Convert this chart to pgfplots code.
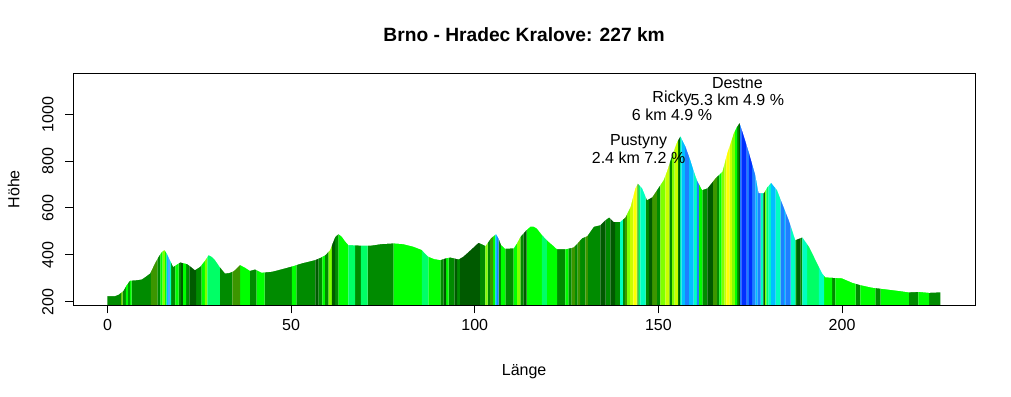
\documentclass[border=0pt]{standalone}
\usepackage{fontspec}
\setmainfont{Liberation Sans}
\usepackage{pgfplots}
\pgfplotsset{compat=1.18}
\usepackage{pgfplotstable}
\definecolor{cA}{HTML}{008B00}
\definecolor{cB}{HTML}{66CD00}
\definecolor{cC}{HTML}{00FF00}
\definecolor{cD}{HTML}{7FFF00}
\definecolor{cE}{HTML}{00FF66}
\definecolor{cF}{HTML}{00FFC0}
\definecolor{cG}{HTML}{00C0FF}
\definecolor{cH}{HTML}{1E80FF}
\definecolor{cI}{HTML}{0030FF}
\definecolor{cJ}{HTML}{C8FF00}
\definecolor{cK}{HTML}{FFFF00}
\definecolor{cL}{HTML}{3C9600}
\definecolor{cM}{HTML}{005A00}

\pgfplotstableread{
km elev
0 224
2.0 224
3.0 230
4.3 246
5.2 271
6.1 290
7.5 291
9.3 295
10.5 308
11.6 321
12.9 364
14.0 395
14.8 413
15.5 421
16.2 405
17.0 378
17.9 349
18.8 358
19.8 368
20.8 364
21.7 361
22.8 348
23.8 335
25.2 349
26.5 375
27.5 399
28.3 393
29.2 380
30.5 350
32.0 321
33.0 322
34.3 330
36.1 357
37.5 345
38.8 332
40.2 338
42.0 324
44.7 328
46.5 335
48.4 343
50.5 352
52.9 364
54.5 370
56.5 378
58.0 388
59.3 399
60.6 421
61.3 450
62.0 477
62.9 489
63.8 478
64.7 458
65.6 442
68.0 440
71.5 439
74.5 446
77.9 449
80.5 446
83.3 435
85.6 421
86.5 405
87.4 392
89.0 382
90.6 378
92.0 385
93.3 389
95.6 381
96.8 392
97.9 407
99.5 430
101.0 452
102.0 445
102.9 438
104.4 471
105.8 489
106.5 470
107.2 442
108.3 426
110.6 428
111.5 450
112.4 477
114.0 505
115.1 520
116.0 521
116.9 513
118.3 485
120.1 456
121.3 440
122.4 424
124.7 424
126.9 432
128.0 450
129.2 471
130.6 480
131.5 500
132.4 520
134.2 527
135.6 549
136.6 560
137.8 541
139.6 541
141.0 560
142.4 605
143.7 684
144.4 705
145.6 684
146.9 634
148.3 646
149.6 677
151.4 719
152.4 760
153.3 805
154.2 845
155.1 883
156.0 907
157.4 862
158.7 805
159.6 760
160.5 719
161.9 677
163.3 684
164.4 705
165.5 727
167.4 755
168.0 790
168.7 833
169.6 875
170.5 919
171.3 945
172.1 964
173.2 911
174.6 840
175.5 790
176.4 741
177.3 663
178.7 663
179.6 688
180.7 708
182.3 677
183.7 620
185.5 549
187.3 463
189.2 475
191.0 435
192.8 378
194.6 321
195.5 304
200.0 300
202.8 281
205.0 271
208.2 260
211.9 253
215.5 246
218.2 240
220.9 242
223.7 238
226.8 240
}\profile

% stripes: km where a colour band starts, colour index
\pgfplotstableread{
km c
0.0 1
3.7 2
4.1 1
5.0 3
5.6 1
6.1 3
6.6 1
11.8 12
13.6 1
14.4 3
15.0 4
15.6 3
16.1 7
16.6 8
16.9 6
17.3 1
18.5 3
19.4 1
20.0 13
20.5 3
21.4 1
22.3 13
24.1 1
25.6 3
26.5 4
27.2 5
30.6 1
34.0 12
36.1 3
38.8 1
40.6 3
42.8 1
50.2 3
51.4 1
56.6 13
57.4 1
58.5 3
59.2 1
60.2 4
61.1 13
62.0 1
62.9 3
65.6 5
67.4 1
69.0 5
70.8 1
77.9 3
85.6 5
87.4 3
90.6 1
91.5 13
92.2 3
92.9 1
94.5 13
95.2 1
96.0 13
101.4 1
102.9 4
103.5 1
104.2 12
105.0 3
105.6 7
106.1 8
106.5 1
107.2 3
108.3 1
110.6 3
111.5 4
112.4 1
113.3 13
114.1 3
118.3 5
119.6 3
122.4 1
124.7 3
125.5 1
126.4 12
127.3 1
128.0 12
128.7 1
130.1 12
130.8 1
134.2 13
135.6 1
136.9 13
138.2 1
139.6 6
140.3 1
140.9 12
141.4 4
142.3 10
143.2 11
144.0 10
144.3 1
144.6 5
145.1 6
146.5 1
147.4 13
148.3 12
149.6 1
150.5 4
151.9 10
153.0 1
153.7 4
154.4 10
155.3 1
155.6 13
155.9 6
156.3 7
157.3 8
158.3 7
159.6 6
160.5 8
161.0 3
162.0 1
163.3 13
164.8 12
166.0 1
166.6 3
167.2 4
168.0 10
168.5 11
169.3 10
170.0 4
170.8 3
171.4 1
171.9 13
172.2 8
172.6 9
174.0 8
174.6 9
175.5 8
176.4 7
177.0 8
177.8 6
178.6 13
179.0 4
179.4 5
180.0 6
180.6 7
181.9 6
183.3 8
184.2 7
184.6 8
186.0 6
187.3 1
187.8 13
188.7 1
189.2 6
190.5 5
193.7 6
195.1 3
197.3 1
198.2 3
203.7 1
205.0 3
209.1 1
210.5 3
218.2 1
220.8 3
223.7 1
226.8 0
}\stripes

\begin{document}
\fontsize{16bp}{19bp}\selectfont
\begin{tikzpicture}
\path (0,0) rectangle (1011bp,397bp);
\begin{axis}[
  at={(73.3bp,91.7bp)}, anchor=south west,
  scale only axis, width=901.7bp, height=232bp,
  xmin=-9.31, xmax=236.2, ymin=184.6, ymax=1175,
  xtick={0,50,100,150,200}, ytick={200,400,600,800,1000},
  xtick pos=left, ytick pos=left,
  tick align=outside, major tick length=8bp,
  axis line style={line width=1bp},
  every tick/.style={black, line width=1bp},
  axis on top,
  /pgf/number format/assume math mode=true,
  /pgf/number format/1000 sep={},
  xticklabel style={anchor=north, inner sep=0pt},
  xticklabel shift=6bp,
  yticklabel style={rotate=90, anchor=base, inner sep=0pt},
  yticklabel shift=12bp,
  title={Brno - Hradec Kralove: 227 km},
  title style={at={(axis description cs:0.5,1)}, anchor=base, yshift=26bp,
    font=\fontsize{19.2bp}{23bp}\selectfont\bfseries},
  xlabel={Länge},
  xlabel style={at={(axis description cs:0.5,0)}, anchor=base, yshift=-70.5bp},
  ylabel={Höhe},
  ylabel style={at={(axis description cs:-0.0599,0.5)}, anchor=base},
]
\addplot[const plot, fill=cA, draw=none, forget plot] table[x=km, y expr={\thisrow{c}==1 ? 1100 : 100}] {\stripes} \closedcycle;
\addplot[const plot, fill=cB, draw=none, forget plot] table[x=km, y expr={\thisrow{c}==2 ? 1100 : 100}] {\stripes} \closedcycle;
\addplot[const plot, fill=cC, draw=none, forget plot] table[x=km, y expr={\thisrow{c}==3 ? 1100 : 100}] {\stripes} \closedcycle;
\addplot[const plot, fill=cD, draw=none, forget plot] table[x=km, y expr={\thisrow{c}==4 ? 1100 : 100}] {\stripes} \closedcycle;
\addplot[const plot, fill=cE, draw=none, forget plot] table[x=km, y expr={\thisrow{c}==5 ? 1100 : 100}] {\stripes} \closedcycle;
\addplot[const plot, fill=cF, draw=none, forget plot] table[x=km, y expr={\thisrow{c}==6 ? 1100 : 100}] {\stripes} \closedcycle;
\addplot[const plot, fill=cG, draw=none, forget plot] table[x=km, y expr={\thisrow{c}==7 ? 1100 : 100}] {\stripes} \closedcycle;
\addplot[const plot, fill=cH, draw=none, forget plot] table[x=km, y expr={\thisrow{c}==8 ? 1100 : 100}] {\stripes} \closedcycle;
\addplot[const plot, fill=cI, draw=none, forget plot] table[x=km, y expr={\thisrow{c}==9 ? 1100 : 100}] {\stripes} \closedcycle;
\addplot[const plot, fill=cJ, draw=none, forget plot] table[x=km, y expr={\thisrow{c}==10 ? 1100 : 100}] {\stripes} \closedcycle;
\addplot[const plot, fill=cK, draw=none, forget plot] table[x=km, y expr={\thisrow{c}==11 ? 1100 : 100}] {\stripes} \closedcycle;
\addplot[const plot, fill=cL, draw=none, forget plot] table[x=km, y expr={\thisrow{c}==12 ? 1100 : 100}] {\stripes} \closedcycle;
\addplot[const plot, fill=cM, draw=none, forget plot] table[x=km, y expr={\thisrow{c}==13 ? 1100 : 100}] {\stripes} \closedcycle;
% white mask above the elevation profile (slightly wider than the bands)
\addplot[fill=white, draw=none, forget plot] table[x=km, y=elev] {\profile}
  -- (axis cs:228.5,240) -- (axis cs:228.5,1150) -- (axis cs:-1.7,1150) -- (axis cs:-1.7,224) -- cycle;
\node[align=center, font=\fontsize{16bp}{17.5bp}\selectfont] at (axis cs:144.6,852) {Pustyny\\2.4 km 7.2 \%};
\node[align=center, font=\fontsize{16bp}{17.5bp}\selectfont] at (axis cs:153.7,1037) {Ricky\\6 km 4.9 \%};
\node[align=center, font=\fontsize{16bp}{17.5bp}\selectfont] at (axis cs:171.5,1097) {Destne\\5.3 km 4.9 \%};
\end{axis}
\end{tikzpicture}
\end{document}
